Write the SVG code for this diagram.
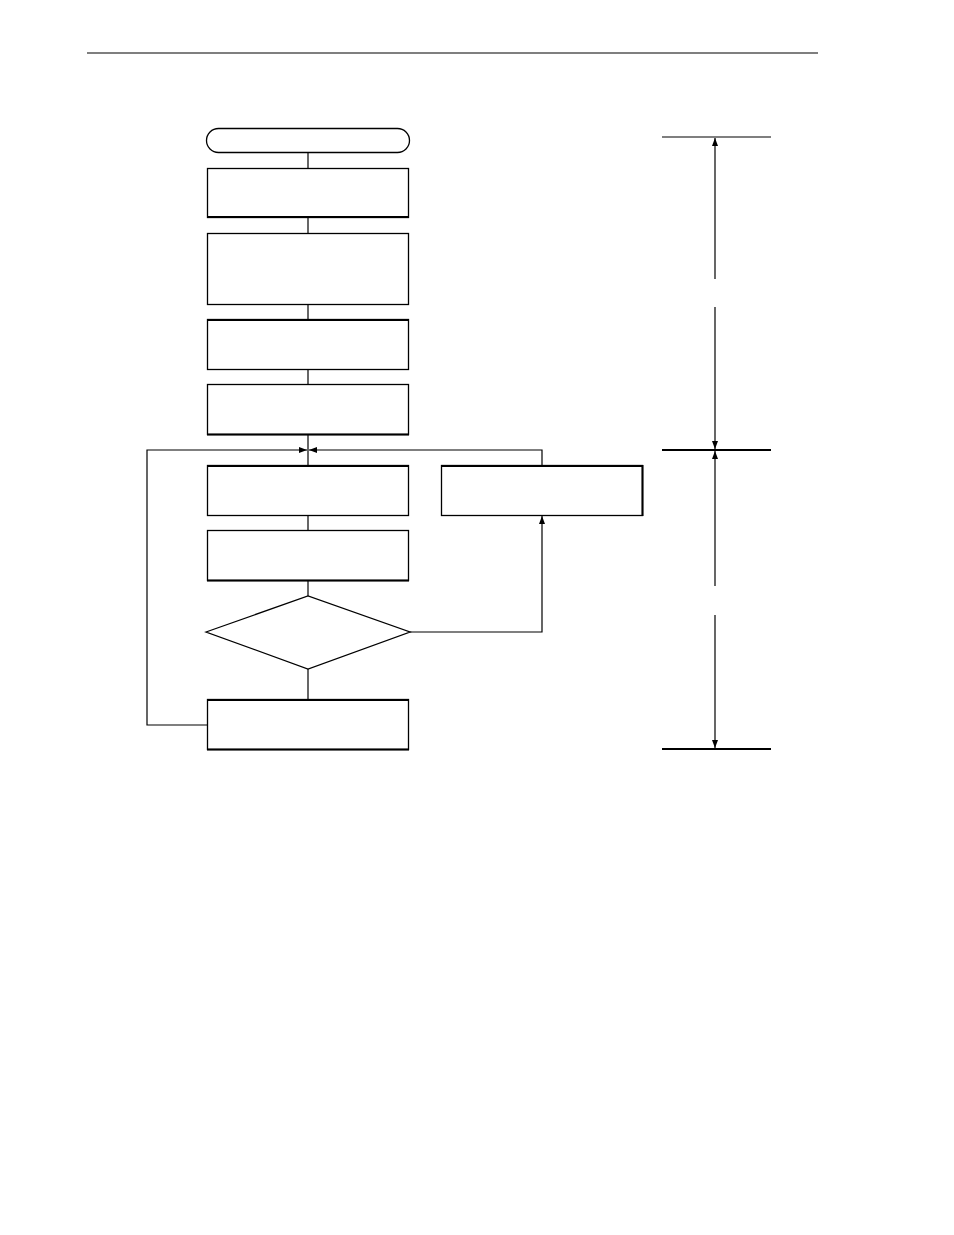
<svg xmlns="http://www.w3.org/2000/svg" width="954" height="1235" viewBox="0 0 954 1235">
<style>
.n{fill:#fff;stroke:#000;stroke-width:1.3}
.c{fill:none;stroke:#000;stroke-width:1.2}
.d{fill:none;stroke:#000;stroke-width:1.2}
.t{stroke:#000;stroke-width:2}
</style>
<defs>
<marker id="ah" viewBox="0 0 8 6" refX="8" refY="3" markerWidth="8" markerHeight="6" markerUnits="userSpaceOnUse" orient="auto">
<path d="M0,0 L8,3 L0,6 Z" fill="#000"/>
</marker>
</defs>
<rect width="954" height="1235" fill="#fff"/>
<line x1="87" y1="53" x2="818" y2="53" stroke="#000" stroke-width="1.2"/>
<g id="connectors">
<line class="c" x1="308" y1="152" x2="308" y2="168"/>
<line class="c" x1="308" y1="217" x2="308" y2="233"/>
<line class="c" x1="308" y1="304" x2="308" y2="319"/>
<line class="c" x1="308" y1="369" x2="308" y2="384"/>
<line class="c" x1="308" y1="435" x2="308" y2="465"/>
<line class="c" x1="308" y1="515" x2="308" y2="530"/>
<line class="c" x1="308" y1="581" x2="308" y2="596"/>
<line class="c" x1="308" y1="669" x2="308" y2="699"/>
<polyline class="c" points="207,725 147,725 147,450 307,450" marker-end="url(#ah)"/>
<polyline class="c" points="542,465 542,450 309,450" marker-end="url(#ah)"/>
<polyline class="c" points="410,632 542,632 542,516" marker-end="url(#ah)"/>
</g>
<g id="terminal"><rect class="n" x="206.5" y="128.5" width="203" height="24" rx="12"/></g>
<g id="box1"><rect class="n" x="207.5" y="168.5" width="201" height="49"/><line class="t" x1="207" y1="217" x2="409" y2="217"/></g>
<g id="box2"><rect class="n" x="207.5" y="233.5" width="201" height="71"/></g>
<g id="box3"><rect class="n" x="207.5" y="319.5" width="201" height="50"/><line class="t" x1="207" y1="320" x2="409" y2="320"/></g>
<g id="box4"><rect class="n" x="207.5" y="384.5" width="201" height="50"/><line class="t" x1="207" y1="434.5" x2="409" y2="434.5"/></g>
<g id="box5"><rect class="n" x="207.5" y="465.5" width="201" height="50"/><line class="t" x1="207" y1="466" x2="409" y2="466"/></g>
<g id="box6"><rect class="n" x="441.5" y="465.5" width="201" height="50"/><line class="t" x1="442" y1="466" x2="643" y2="466"/><line class="t" x1="642.5" y1="465" x2="642.5" y2="516"/></g>
<g id="box7"><rect class="n" x="207.5" y="530.5" width="201" height="50"/><line class="t" x1="207" y1="580.5" x2="409" y2="580.5"/></g>
<g id="decision"><polygon class="n" points="206,632 308,596 410,632 308,669"/></g>
<g id="box8"><rect class="n" x="207.5" y="699.5" width="201" height="50"/><line class="t" x1="207" y1="700" x2="409" y2="700"/><line class="t" x1="207" y1="749.5" x2="409" y2="749.5"/></g>
<g id="dimensions">
<line x1="662" y1="137" x2="771" y2="137" stroke="#000" stroke-width="1.2"/>
<line class="t" x1="662" y1="450" x2="771" y2="450"/>
<line class="t" x1="662" y1="749" x2="771" y2="749"/>
<line class="d" x1="715" y1="279" x2="715" y2="138" marker-end="url(#ah)"/>
<line class="d" x1="715" y1="307" x2="715" y2="449" marker-end="url(#ah)"/>
<line class="d" x1="715" y1="586" x2="715" y2="451" marker-end="url(#ah)"/>
<line class="d" x1="715" y1="615" x2="715" y2="748" marker-end="url(#ah)"/>
</g>
</svg>
